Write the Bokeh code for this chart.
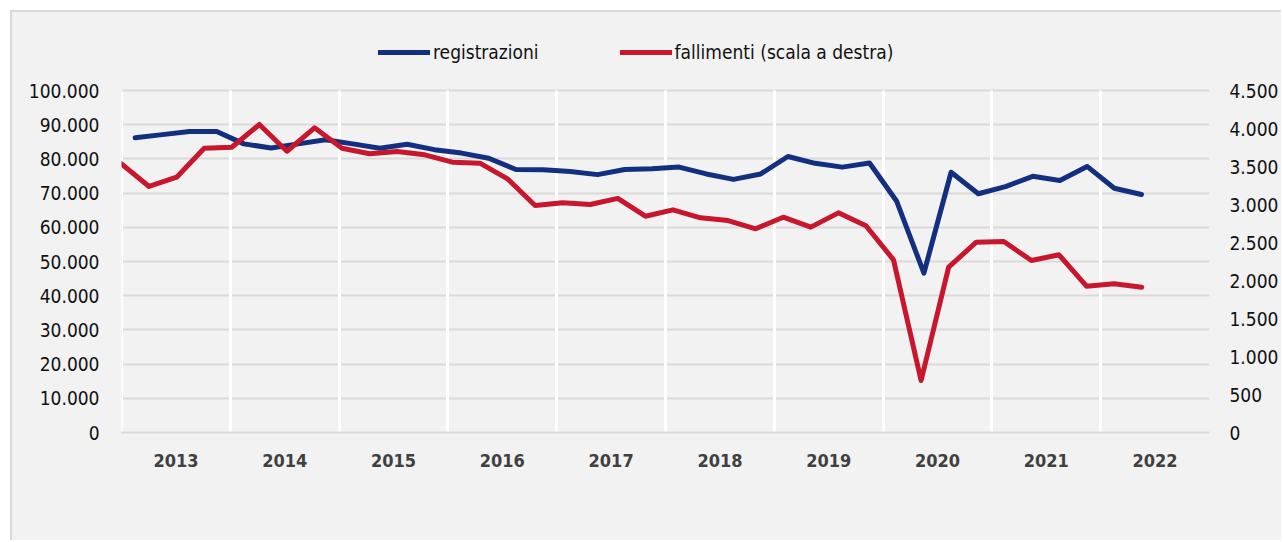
import numpy as np
from bokeh.plotting import figure
from bokeh.models import Range1d, LinearAxis, FixedTicker, Legend, LegendItem
from bokeh.core.properties import value
from bokeh.embed import file_html
from bokeh.resources import INLINE

# ---------------- data ----------------
years = [str(y) for y in range(2013, 2023)]
quarters = [f"{y}T{q}" for y in range(2013, 2023) for q in range(1, 5)][:38]

registrazioni = [86200, 87100, 88000, 88000,
                 84400, 83200, 84400, 85600,
                 84400, 83100, 84300, 82700,
                 81700, 80200, 76900, 76800,
                 76300, 75400, 76900, 77100,
                 77600, 75600, 74000, 75600,
                 80700, 78700, 77600, 78800,
                 67600, 46600, 76100, 69800,
                 71900, 74900, 73700, 77800,
                 71400, 69600]

fallimenti = [3535, 3237, 3359, 3741,
              3754, 4053, 3701, 4009,
              3741, 3667, 3697, 3654,
              3557, 3544, 3338, 2987,
              3022, 3000, 3080, 2846,
              2930, 2825, 2789, 2680,
              2833, 2702, 2890, 2720,
              2272, 684, 2175, 2504,
              2513, 2263, 2338, 1925,
              1956, 1912]

left_ticks = list(range(0, 100001, 10000))
right_ticks = list(range(0, 4501, 500))


def it_fmt(v):
    return f"{v:,}".replace(",", ".")


# ---------------- style / layout ----------------
FONT = "DejaVu Sans Condensed"
BG = "#f2f2f2"
GRID = "#d9d9d9"
BLUE = "#12307f"
RED = "#c8162d"
FS = "19px"
FS_X = "18px"

FRAME_H = 420          # frame height in px (legend lives inside the frame)
DATA_H = 342           # px occupied by the value axes (0 .. max tick)
top_scale = FRAME_H / DATA_H

n_quarters_axis = 4 * len(years)

p = figure(width=1271, height=530, output_backend="svg", toolbar_location=None,
           x_range=Range1d(-0.001, n_quarters_axis),
           y_range=Range1d(0, left_ticks[-1] * top_scale),
           min_border_left=109, min_border_right=74, min_border_top=0,
           min_border_bottom=110,
           background_fill_color=BG, border_fill_color=BG, outline_line_color=None)
p.styles = {"margin-left": "10px", "margin-top": "10px",
            "background-color": BG,
            "border-left": "2px solid #d9d9d9", "border-top": "2px solid #d9d9d9"}
p.extra_y_ranges = {"right": Range1d(0, right_ticks[-1] * top_scale)}
p.extra_x_ranges = {"redx": Range1d(0, 39.46)}

# grids
p.ygrid.ticker = FixedTicker(ticks=left_ticks)
p.ygrid.grid_line_color = GRID
p.ygrid.grid_line_width = 2
p.ygrid.level = "image"
boundaries = [4 * i for i in range(len(years))]
xg = p.xgrid[0]
if "cross_bounds" in xg.properties():
    xg.ticker = FixedTicker(ticks=boundaries)
    xg.grid_line_color = "white"
    xg.grid_line_width = 3
    xg.cross_bounds = (0, left_ticks[-1])
else:
    xg.visible = False
    p.segment(x0=boundaries, x1=boundaries, y0=0, y1=left_ticks[-1],
              line_color="white", line_width=3)

# bottom axis
xa = p.xaxis[0]
xa.ticker = FixedTicker(ticks=[4 * i + 2 for i in range(len(years))])
xa.major_label_overrides = {4 * i + 2: years[i] for i in range(len(years))}
xa.axis_line_color = GRID
xa.axis_line_width = 2
xa.major_tick_line_color = None
xa.minor_tick_line_color = None
xa.major_tick_out = 0
xa.major_tick_in = 0
xa.major_label_standoff = 21
xa.major_label_text_font = FONT
xa.major_label_text_font_size = FS_X
xa.major_label_text_font_style = "bold"
xa.major_label_text_color = "#404040"

# left axis
ya = p.yaxis[0]
ya.ticker = FixedTicker(ticks=left_ticks)
ya.major_label_overrides = {v: it_fmt(v) for v in left_ticks}
ya.axis_line_color = None
ya.major_tick_line_color = None
ya.minor_tick_line_color = None
ya.major_tick_out = 0
ya.major_tick_in = 0
ya.major_label_standoff = 22
ya.major_label_text_font = FONT
ya.major_label_text_font_size = FS
ya.major_label_text_color = "#111111"

# right axis
ra = LinearAxis(y_range_name="right", ticker=FixedTicker(ticks=right_ticks))
ra.major_label_overrides = {v: it_fmt(v) for v in right_ticks}
ra.axis_line_color = None
ra.major_tick_line_color = None
ra.minor_tick_line_color = None
ra.major_tick_out = 0
ra.major_tick_in = 0
ra.major_label_standoff = 20
ra.major_label_text_font = FONT
ra.major_label_text_font_size = FS
ra.major_label_text_color = "#111111"
p.add_layout(ra, "right")

# series
blue_x = np.arange(len(registrazioni)) + 0.5
red_x = np.arange(len(fallimenti))
rb = p.line(x=blue_x, y=registrazioni, line_color=BLUE, line_width=5,
            line_join="round", line_cap="round")
rr = p.line(x=red_x, y=fallimenti, line_color=RED, line_width=5,
            line_join="round", line_cap="round",
            x_range_name="redx", y_range_name="right")

legend = Legend(items=[LegendItem(label="registrazioni", renderers=[rb]),
                       LegendItem(label="fallimenti (scala a destra)", renderers=[rr])],
                orientation="horizontal", location=(257, 368),
                glyph_width=52, glyph_height=24, label_height=24,
                label_standoff=3, spacing=81, padding=0, margin=0,
                border_line_color=None, background_fill_alpha=0,
                label_text_font=FONT, label_text_font_size=FS,
                label_text_color="#111111")
p.add_layout(legend)

open("out.html", "w").write(file_html(p, INLINE))
